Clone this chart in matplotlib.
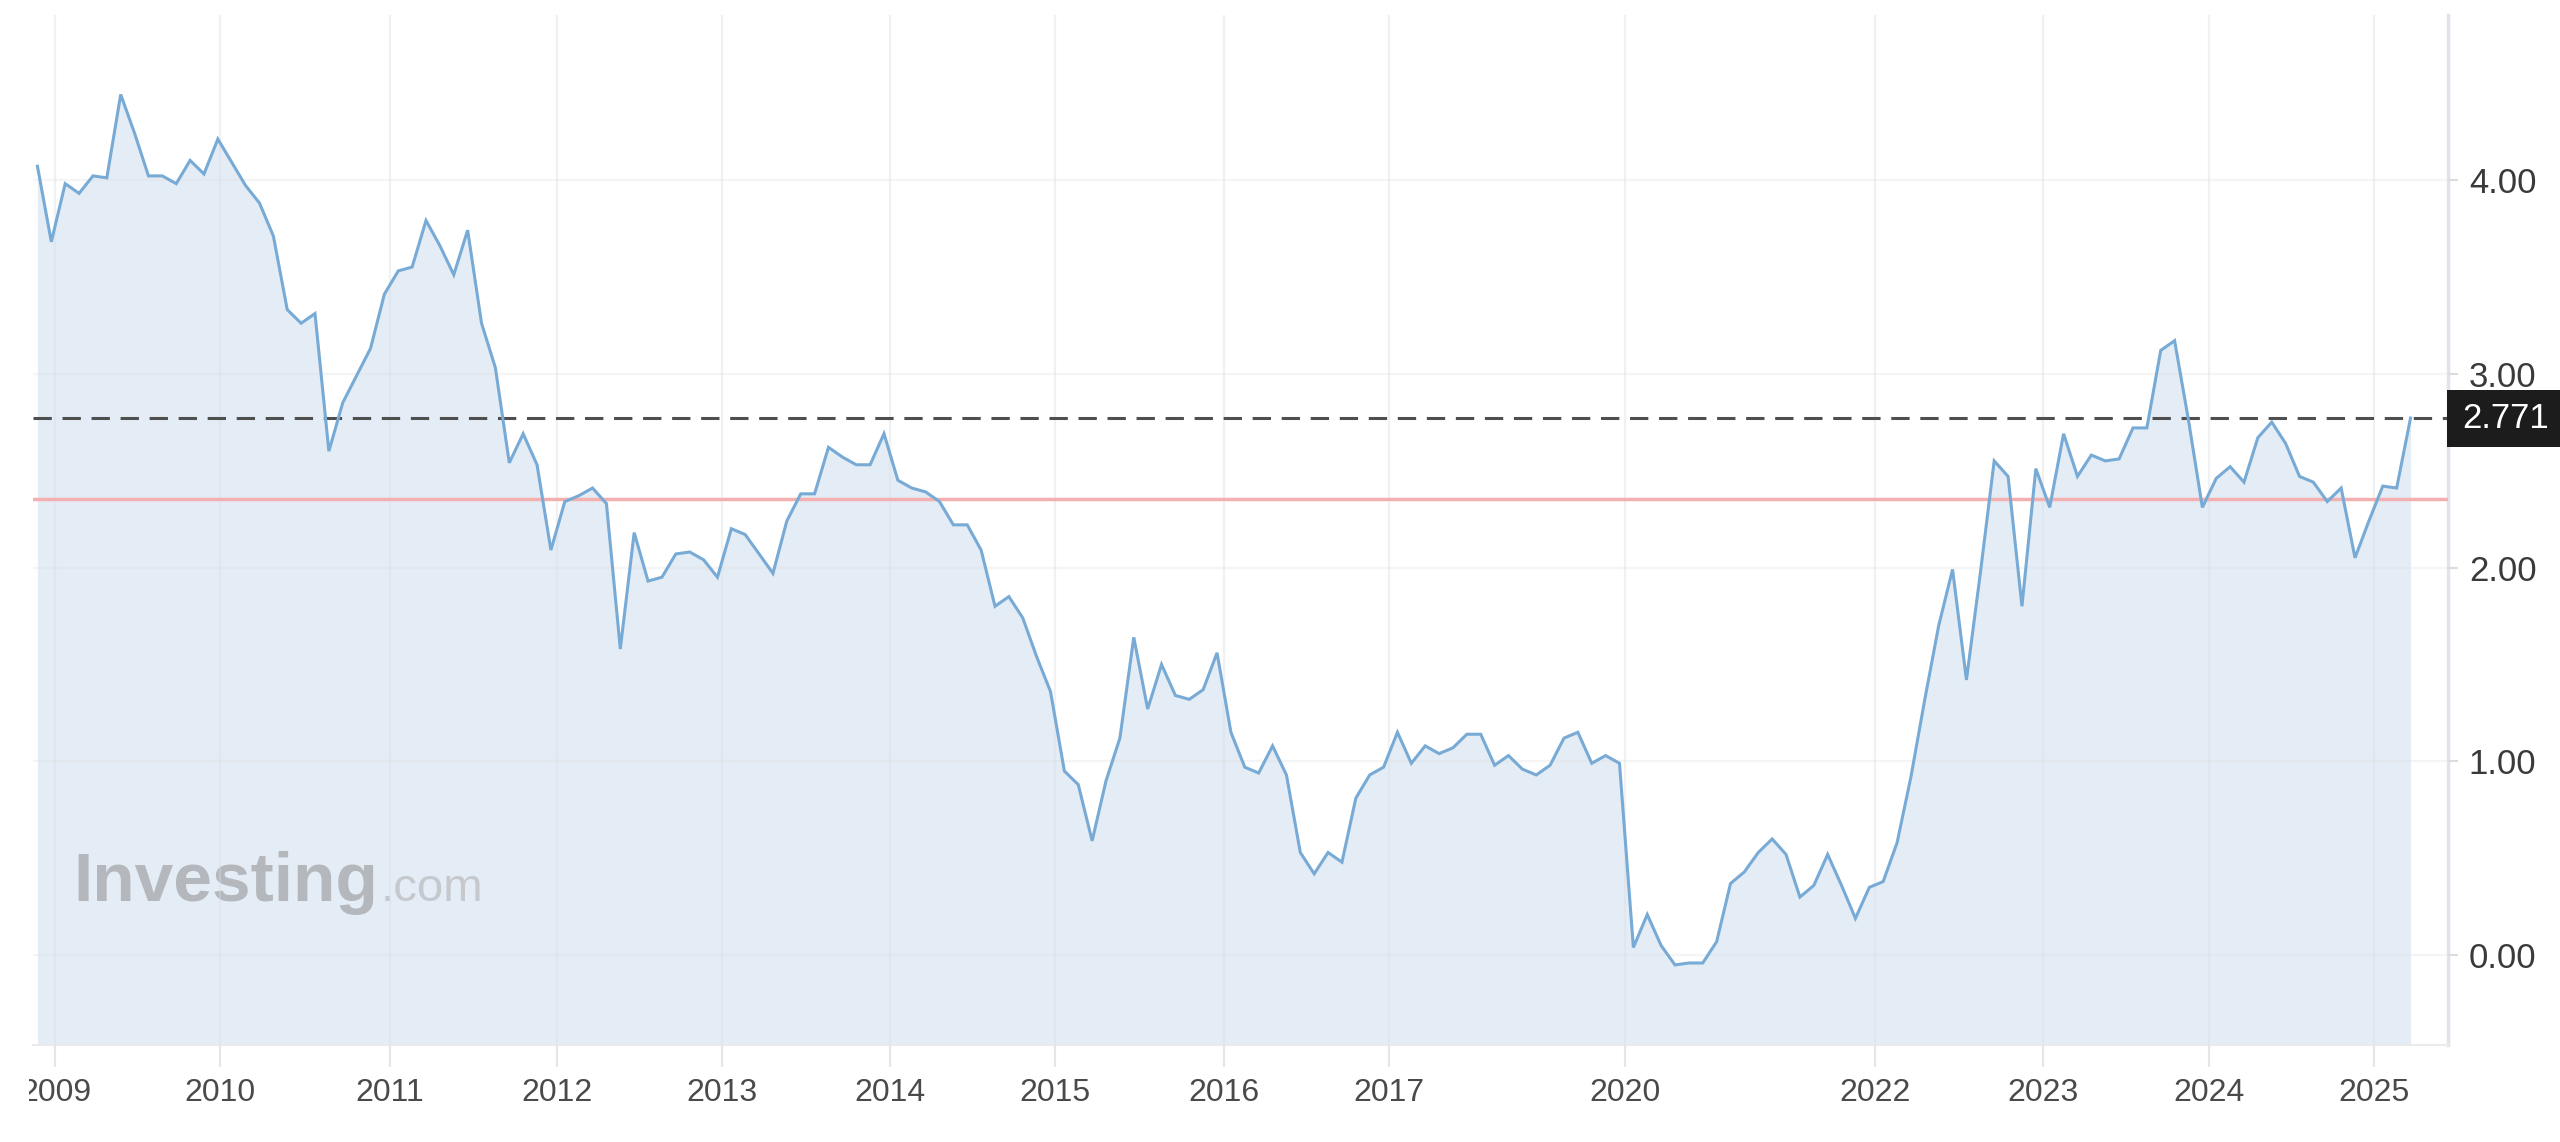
import matplotlib
matplotlib.use('Agg')
import matplotlib.pyplot as plt
import matplotlib.font_manager as fm
from matplotlib.patches import Rectangle
from matplotlib.transforms import blended_transform_factory, Bbox

# monthly values (first point late 2008, last 2.771)
values = [
    4.07, 3.68, 3.98, 3.93, 4.02, 4.01, 4.44, 4.24, 4.02, 4.02,
    3.98, 4.10, 4.03, 4.21, 4.09, 3.97, 3.88, 3.71, 3.33, 3.26,
    3.31, 2.60, 2.85, 2.99, 3.13, 3.41, 3.53, 3.55, 3.79, 3.66,
    3.51, 3.74, 3.26, 3.03, 2.54, 2.69, 2.53, 2.09, 2.34, 2.37,
    2.41, 2.33, 1.58, 2.18, 1.93, 1.95, 2.07, 2.08, 2.04, 1.95,
    2.20, 2.17, 2.07, 1.97, 2.24, 2.38, 2.38, 2.62, 2.57, 2.53,
    2.53, 2.69, 2.45, 2.41, 2.39, 2.34, 2.22, 2.22, 2.09, 1.80,
    1.85, 1.74, 1.54, 1.36, 0.95, 0.88, 0.59, 0.90, 1.12, 1.64,
    1.27, 1.50, 1.34, 1.32, 1.37, 1.56, 1.15, 0.97, 0.94, 1.08,
    0.93, 0.53, 0.42, 0.53, 0.48, 0.81, 0.93, 0.97, 1.15, 0.99,
    1.08, 1.04, 1.07, 1.14, 1.14, 0.98, 1.03, 0.96, 0.93, 0.98,
    1.12, 1.15, 0.99, 1.03, 0.99, 0.04, 0.21, 0.05, -0.05, -0.04,
    -0.04, 0.07, 0.37, 0.43, 0.53, 0.60, 0.52, 0.30, 0.36, 0.52,
    0.36, 0.19, 0.35, 0.38, 0.58, 0.92, 1.32, 1.70, 1.99, 1.42,
    1.97, 2.55, 2.47, 1.80, 2.51, 2.31, 2.69, 2.47, 2.58, 2.55,
    2.56, 2.72, 2.72, 3.12, 3.17, 2.76, 2.31, 2.46, 2.52, 2.44,
    2.67, 2.75, 2.64, 2.47, 2.44, 2.34, 2.41, 2.05, 2.24, 2.42,
    2.41, 2.771,
]
x = list(range(len(values)))

# year labels sit at these point positions (axis is point-indexed, not time-linear)
tick_pos = [1.30, 13.16, 25.41, 37.45, 49.34, 61.45, 73.34, 85.52,
            97.41, 114.4, 132.4, 144.5, 156.5, 168.4]
tick_labels = ['2009', '2010', '2011', '2012', '2013', '2014', '2015', '2016',
               '2017', '2020', '2022', '2023', '2024', '2025']
y_ticks = [0, 1, 2, 3, 4]

last_value = 2.771
ref_level = 2.355

LINE = '#78aad6'
FILL = '#e4edf5'

names = {f.name for f in fm.fontManager.ttflist}
narrow = 'Liberation Sans Narrow' if 'Liberation Sans Narrow' in names else 'Liberation Sans'
xsize = 26 if narrow == 'Liberation Sans Narrow' else 23

W, H = 2560, 1142
fig = plt.figure(figsize=(W / 100, H / 100), dpi=100)
ax = fig.add_axes([33 / W, (H - 1045) / H, (2448 - 33) / W, (1045 - 15) / H])

ax.fill_between(x, values, -1, color=FILL, lw=0, zorder=1)
ax.plot(x, values, color=LINE, lw=2.2, zorder=4, solid_joinstyle='miter')
ax.axhline(last_value, color='#4f4f4f', lw=2.2, ls=(0, (6, 3.5)), zorder=3)
ax.axhline(ref_level, color='#f4b0b0', lw=2.5, zorder=3)

ax.set_xlim(-0.32, 173.7)
ax.set_ylim(-0.463, 4.85)

ax.set_axisbelow(False)
ax.set_yticks(y_ticks)
ax.set_yticklabels([f'{v:.2f}' for v in y_ticks])
ax.set_xticks(tick_pos)
ax.set_xticklabels(tick_labels)
ax.grid(axis='y', color='#dedede', alpha=0.3, lw=1.6)
ax.grid(axis='x', color='#d8dde3', alpha=0.4, lw=1.6)

ax.yaxis.tick_right()
ax.tick_params(axis='y', length=7, width=1.5, color='#dcdcdc', pad=8,
               labelsize=25, labelcolor='#3a3a3a')
ax.tick_params(axis='x', length=16, width=1.5, color='#e6e6e6', pad=8,
               labelsize=xsize, labelcolor='#4a4a4a')
for lab in ax.get_yticklabels():
    lab.set_family('Liberation Sans')
for lab in ax.get_xticklabels():
    lab.set_family(narrow)

for s in ['top', 'left']:
    ax.spines[s].set_visible(False)
ax.spines['right'].set_color('#e0e4ea')
ax.spines['right'].set_linewidth(2.5)
ax.spines['bottom'].set_color('#ebebeb')
ax.spines['bottom'].set_linewidth(1.5)

# last value tag on the right axis
tr = blended_transform_factory(fig.transFigure, ax.transData)
ax.add_patch(Rectangle((2447 / W, last_value - 0.147), 113 / W, 0.294,
                       transform=tr, facecolor='#1c1c1c', edgecolor='none',
                       clip_on=False, zorder=10))
ax.text(2462 / W, last_value, f'{last_value:.3f}', transform=tr, color='white',
        fontsize=25, family='Liberation Sans', va='center', ha='left',
        clip_on=False, zorder=11)

# watermark
wm = ax.text(0.0166, 0.14, 'Investing', transform=ax.transAxes, fontsize=50,
             fontweight='bold', family='Liberation Sans', color='#b4b8bd',
             va='baseline', ha='left', zorder=2)
fig.canvas.draw()
bb = wm.get_window_extent()
x_end = ax.transAxes.inverted().transform((bb.x1, bb.y0))[0]
ax.text(x_end + 0.001, 0.14, '.com', transform=ax.transAxes, fontsize=34,
        family='Liberation Sans', color='#c5c9ce', va='baseline', ha='left',
        zorder=2)

# first year label is cut off at the chart's left edge in the original
first = ax.get_xticklabels()[0]
first.set_clip_box(Bbox.from_extents(29, 0, W, H))
first.set_clip_on(True)

fig.savefig('out.png', dpi=100, facecolor='white')
